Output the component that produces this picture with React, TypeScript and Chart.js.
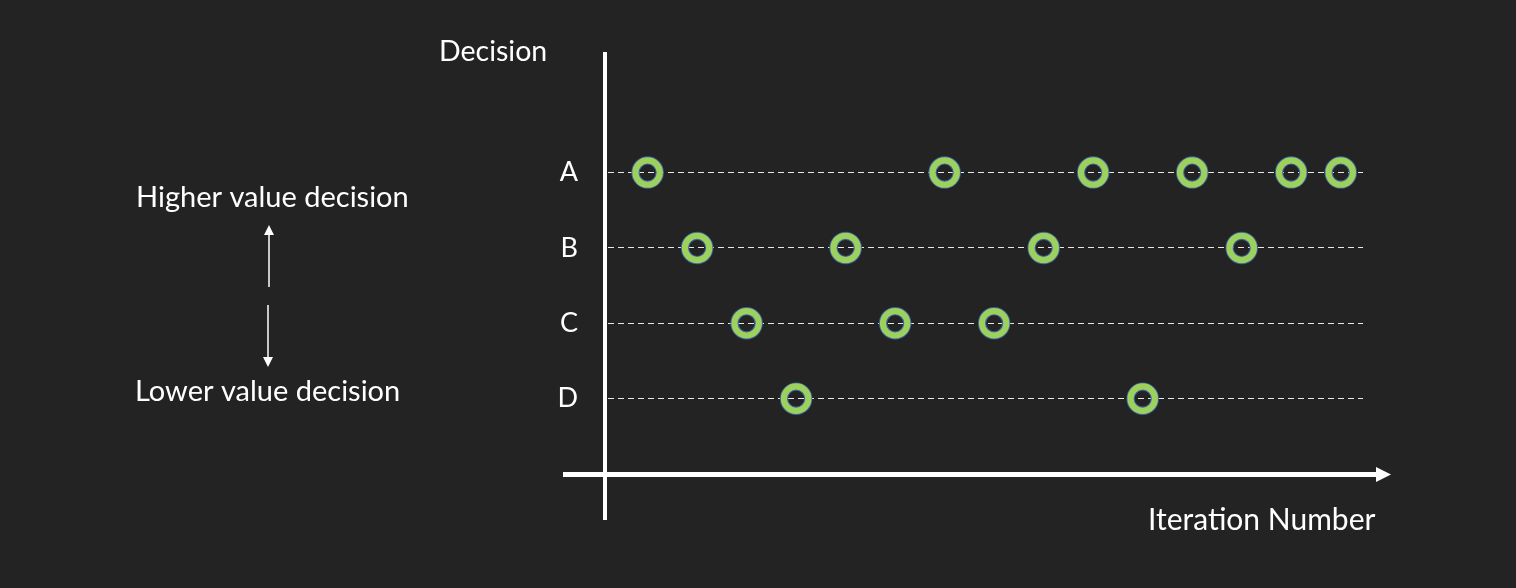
import React, { useEffect, useRef } from 'react';
import { Chart, registerables } from 'chart.js';

Chart.register(...registerables);

// decision rows (top to bottom) and their position on the y scale
const decisions = ['A', 'B', 'C', 'D'];
const decisionValues = [4, 3, 2, 1];

// decision picked at each iteration
const iterations = [1, 2, 3, 4, 5, 6, 7, 8, 9, 10, 11, 12, 13, 14, 15];
const chosen = ['A', 'B', 'C', 'D', 'B', 'C', 'A', 'C', 'B', 'A', 'D', 'A', 'B', 'A', 'A'];

const BG = '#232323';
const GREEN = '#9DD15E';
const BLUE = '#3E5FA0';
const FONT = 'Lato, "DejaVu Sans", sans-serif';

const decorations = {
  id: 'decorations',
  beforeDraw(chart: any) {
    const { ctx, width, height } = chart;
    ctx.save();
    ctx.fillStyle = BG;
    ctx.fillRect(0, 0, width, height);
    ctx.restore();
  },
  afterDraw(chart: any) {
    const { ctx, chartArea: a } = chart;
    ctx.save();
    ctx.fillStyle = '#ffffff';
    ctx.strokeStyle = '#ffffff';

    // axes
    ctx.fillRect(a.left - 5, a.top, 4, a.bottom - a.top + 46);
    ctx.fillRect(a.left - 45, a.bottom - 2, a.right - a.left + 60, 5);
    ctx.beginPath();
    ctx.moveTo(a.right + 28, a.bottom + 0.5);
    ctx.lineTo(a.right + 13, a.bottom - 7);
    ctx.lineTo(a.right + 13, a.bottom + 8);
    ctx.closePath();
    ctx.fill();

    // titles
    ctx.textAlign = 'left';
    ctx.textBaseline = 'alphabetic';
    ctx.font = `28.5px ${FONT}`;
    ctx.fillText('Decision', 439, 61);
    ctx.font = `30px ${FONT}`;
    ctx.fillText('Iteration Number', 1148, 530);
    ctx.font = `29px ${FONT}`;
    ctx.fillText('Higher value decision', 136, 207);
    ctx.fillText('Lower value decision', 135, 401);

    // small up / down arrows
    ctx.lineWidth = 1.5;
    ctx.beginPath();
    ctx.moveTo(269, 287);
    ctx.lineTo(269, 234);
    ctx.moveTo(268, 305);
    ctx.lineTo(268, 358);
    ctx.stroke();
    ctx.beginPath();
    ctx.moveTo(269, 225);
    ctx.lineTo(264, 235);
    ctx.lineTo(274, 235);
    ctx.closePath();
    ctx.moveTo(268, 367);
    ctx.lineTo(263, 357);
    ctx.lineTo(273, 357);
    ctx.closePath();
    ctx.fill();
    ctx.restore();
  },
};

const App: React.FC = () => {
  const canvasRef = useRef<HTMLCanvasElement>(null);

  useEffect(() => {
    document.body.style.margin = '0';
    document.body.style.background = BG;
    if (!canvasRef.current) return;

    const points = chosen.map((d, i) => ({
      x: iterations[i],
      y: decisionValues[decisions.indexOf(d)],
    }));

    // dataset 0 is drawn on top, so the green ring comes first
    const chart = new Chart(canvasRef.current, {
      type: 'scatter',
      data: {
        datasets: [
          {
            data: points,
            pointRadius: 12.2,
            pointHoverRadius: 12.2,
            pointBorderWidth: 6.2,
            pointHoverBorderWidth: 6.2,
            pointBorderColor: GREEN,
            pointBackgroundColor: 'transparent',
            showLine: false,
          },
          {
            data: points,
            pointRadius: 12.1,
            pointHoverRadius: 12.1,
            pointBorderWidth: 8.3,
            pointHoverBorderWidth: 8.3,
            pointBorderColor: BLUE,
            pointBackgroundColor: 'transparent',
            showLine: false,
          },
        ],
      },
      options: {
        responsive: false,
        animation: false,
        events: [],
        layout: { padding: { left: 508, right: 153, top: 52, bottom: 114 } },
        plugins: { legend: { display: false }, tooltip: { enabled: false } },
        scales: {
          x: { type: 'linear', min: 0.2, max: 15.45, display: false },
          y: {
            type: 'linear',
            min: 0,
            max: 5.6,
            afterBuildTicks: (scale: any) => {
              scale.ticks = decisionValues.map(v => ({ value: v }));
            },
            afterFit: (scale: any) => {
              scale.width = 100;
            },
            ticks: {
              color: '#ffffff',
              padding: 30,
              font: { family: FONT, size: 27 },
              callback: (v: any) => decisions[decisionValues.indexOf(Number(v))] ?? '',
            },
            grid: { color: '#e8e8e8', lineWidth: 1, drawTicks: false },
            border: { display: false, dash: [6, 4] },
          },
        },
      },
      plugins: [decorations],
    });

    return () => chart.destroy();
  }, []);

  return (
    <div style={{ width: 1516, height: 588, background: BG }}>
      <canvas ref={canvasRef} width={1516} height={588} style={{ display: 'block' }} />
    </div>
  );
};

export default App;
